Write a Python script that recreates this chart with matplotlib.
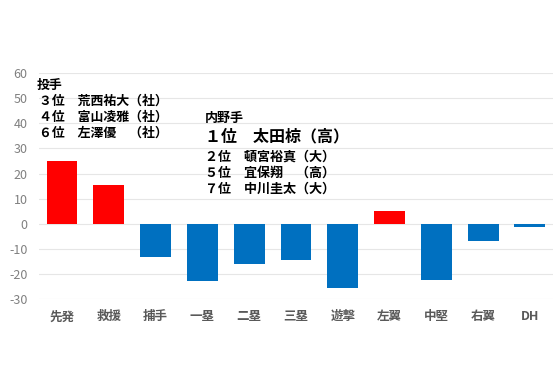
import matplotlib
matplotlib.use("Agg")
import matplotlib.pyplot as plt

plt.rcParams['font.family'] = ['Noto Sans CJK JP', 'DejaVu Sans']
plt.rcParams['axes.unicode_minus'] = False

# positions and values
positions = ["先発", "救援", "捕手", "一塁", "二塁", "三塁", "遊撃", "左翼", "中堅", "右翼", "DH"]
values = [25, 15.4, -13.4, -22.6, -16, -14.3, -25.5, 4.9, -22.2, -7, -1.3]
y_ticks = [-30, -20, -10, 0, 10, 20, 30, 40, 50, 60]

pitcher_lines = ["投手", "３位　荒西祐大（社）", "４位　富山凌雅（社）", "６位　左澤優　（社）"]
infield_lines = ["内野手", "１位　太田椋（高）", "２位　頓宮裕真（大）", "５位　宜保翔　（高）", "７位　中川圭太（大）"]

colors = ["#FF0000" if v > 0 else "#0070C0" for v in values]

fig = plt.figure(figsize=(5.6, 3.73), dpi=100)
ax = fig.add_axes([0.069, 0.198, 0.919, 0.606])
x = list(range(len(positions)))
ax.bar(x, values, width=0.66, color=colors, zorder=3)

ax.set_ylim(-30, 60)
ax.set_xlim(-0.5, len(positions) - 0.5)
ax.set_yticks(y_ticks)
ax.set_xticks(x)
ax.set_xticklabels(positions, fontsize=9, color="#595959", fontweight="bold")
ax.tick_params(axis="y", labelsize=9, labelcolor="#808080", length=0, pad=8)
ax.tick_params(axis="x", length=0, pad=8)
ax.yaxis.grid(True, color="#E6E6E6", linewidth=0.8, zorder=0)
for s in ax.spines.values():
    s.set_visible(False)

# pitcher notes
py = [55.2, 48.9, 42.5, 36.2]
for i, line in enumerate(pitcher_lines):
    ax.text(-0.54 if i == 0 else -0.5, py[i], line, fontsize=9.3, fontweight="bold", va="center", ha="left")

# infield notes
iy = [42.1, 34.6, 26.6, 20.3, 13.9]
for i, line in enumerate(infield_lines):
    ax.text(3.06, iy[i], line, fontsize=11.5 if i == 1 else 9.4, fontweight="bold", va="center", ha="left")

fig.savefig("out.png", dpi=100)
